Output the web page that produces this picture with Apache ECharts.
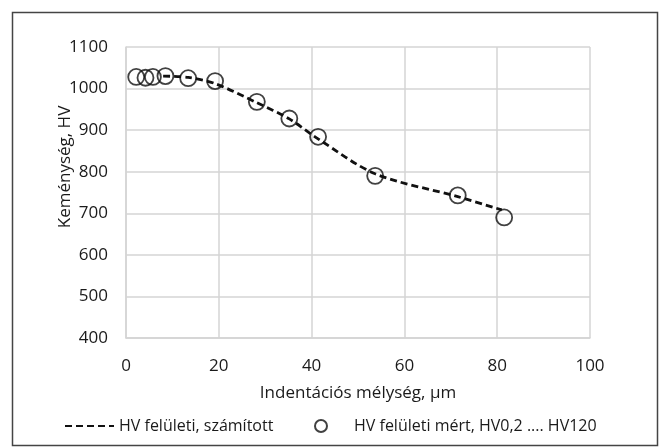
<!DOCTYPE html>
<html>
<head>
<meta charset="utf-8">
<script src="https://cdn.jsdelivr.net/npm/echarts@6/dist/echarts.min.js"></script>
<style>
  html, body { margin: 0; padding: 0; background: #fff; }
  #chart { width: 660px; height: 447px; }
</style>
</head>
<body>
<div id="chart"></div>
<script>
// mért pontok (körök)
const measuredX = [2.2, 4.2, 5.8, 8.5, 13.4, 19.2, 28.2, 35.2, 41.4, 53.7, 71.5, 81.5]
const measuredY = [1028, 1026, 1028, 1030, 1025, 1018, 968, 928, 884, 790, 743, 690]
// számított görbe (szaggatott vonal)
const calcX = [8, 13.4, 19.2, 28.2, 35.2, 41.4, 53.7, 71.5, 81]
const calcY = [1030, 1027, 1012, 966, 927, 879, 795, 740, 708]

const lineName = 'HV felületi, számított'
const dotName = 'HV felületi mért, HV0,2 .... HV120'

const font = 'Open Sans'
const txt = '#1a1a1a'

const chart = echarts.init(document.getElementById('chart'))
chart.setOption({
  animation: false,
  textStyle: { fontFamily: font, color: txt },
  grid: { left: 126, right: 70, top: 47, bottom: 109 },
  graphic: [
    {
      type: 'rect',
      shape: { x: 12.5, y: 12.5, width: 645, height: 433 },
      style: { fill: 'none', stroke: '#444', lineWidth: 1.5 }
    }
  ],
  legend: [
    {
      // a vonal ikonján ne legyen pont
      data: [{ name: lineName, itemStyle: { color: 'rgba(0,0,0,0)', borderWidth: 0 } }],
      left: 59,
      top: 413,
      itemWidth: 49,
      itemHeight: 14,
      textStyle: { fontFamily: font, fontSize: 16, color: txt }
    },
    {
      data: [dotName],
      left: 309,
      top: 413,
      itemWidth: 12,
      itemHeight: 12,
      textStyle: { fontFamily: font, fontSize: 16, color: txt, padding: [0, 0, 0, 22] }
    }
  ],
  xAxis: {
    type: 'value',
    min: 0,
    max: 100,
    interval: 20,
    name: 'Indentációs mélység, µm',
    nameLocation: 'middle',
    nameGap: 47,
    nameMoveOverlap: false,
    nameTextStyle: { fontFamily: font, fontSize: 17, color: txt },
    axisLine: { lineStyle: { color: '#d4d4d4', width: 1.5 } },
    axisTick: { show: false },
    axisLabel: { fontSize: 17, color: txt, margin: 20 },
    splitLine: { lineStyle: { color: '#d4d4d4', width: 1.5 } }
  },
  yAxis: {
    type: 'value',
    min: 400,
    max: 1100,
    interval: 100,
    name: 'Keménység, HV',
    nameLocation: 'middle',
    nameGap: 52,
    nameMoveOverlap: false,
    nameTextStyle: { fontFamily: font, fontSize: 17, color: txt, padding: [0, 0, 0, 51] },
    axisLine: { show: true, lineStyle: { color: '#d4d4d4', width: 1.5 } },
    axisTick: { show: false },
    axisLabel: { fontSize: 17, color: txt, margin: 18, formatter: v => String(v) },
    splitLine: { lineStyle: { color: '#d4d4d4', width: 1.5 } }
  },
  series: [
    {
      name: lineName,
      type: 'line',
      smooth: 0.3,
      symbol: 'none',
      data: calcX.map((x, i) => [x, calcY[i]]),
      lineStyle: { color: '#111', width: 2.8, type: [7, 4] },
      itemStyle: { color: '#111' },
      z: 3
    },
    {
      name: dotName,
      type: 'scatter',
      symbol: 'circle',
      symbolSize: 16,
      data: measuredX.map((x, i) => [x, measuredY[i]]),
      itemStyle: { color: 'rgba(0,0,0,0)', borderColor: '#111', borderWidth: 1.8 },
      z: 2
    }
  ]
})
</script>
</body>
</html>
